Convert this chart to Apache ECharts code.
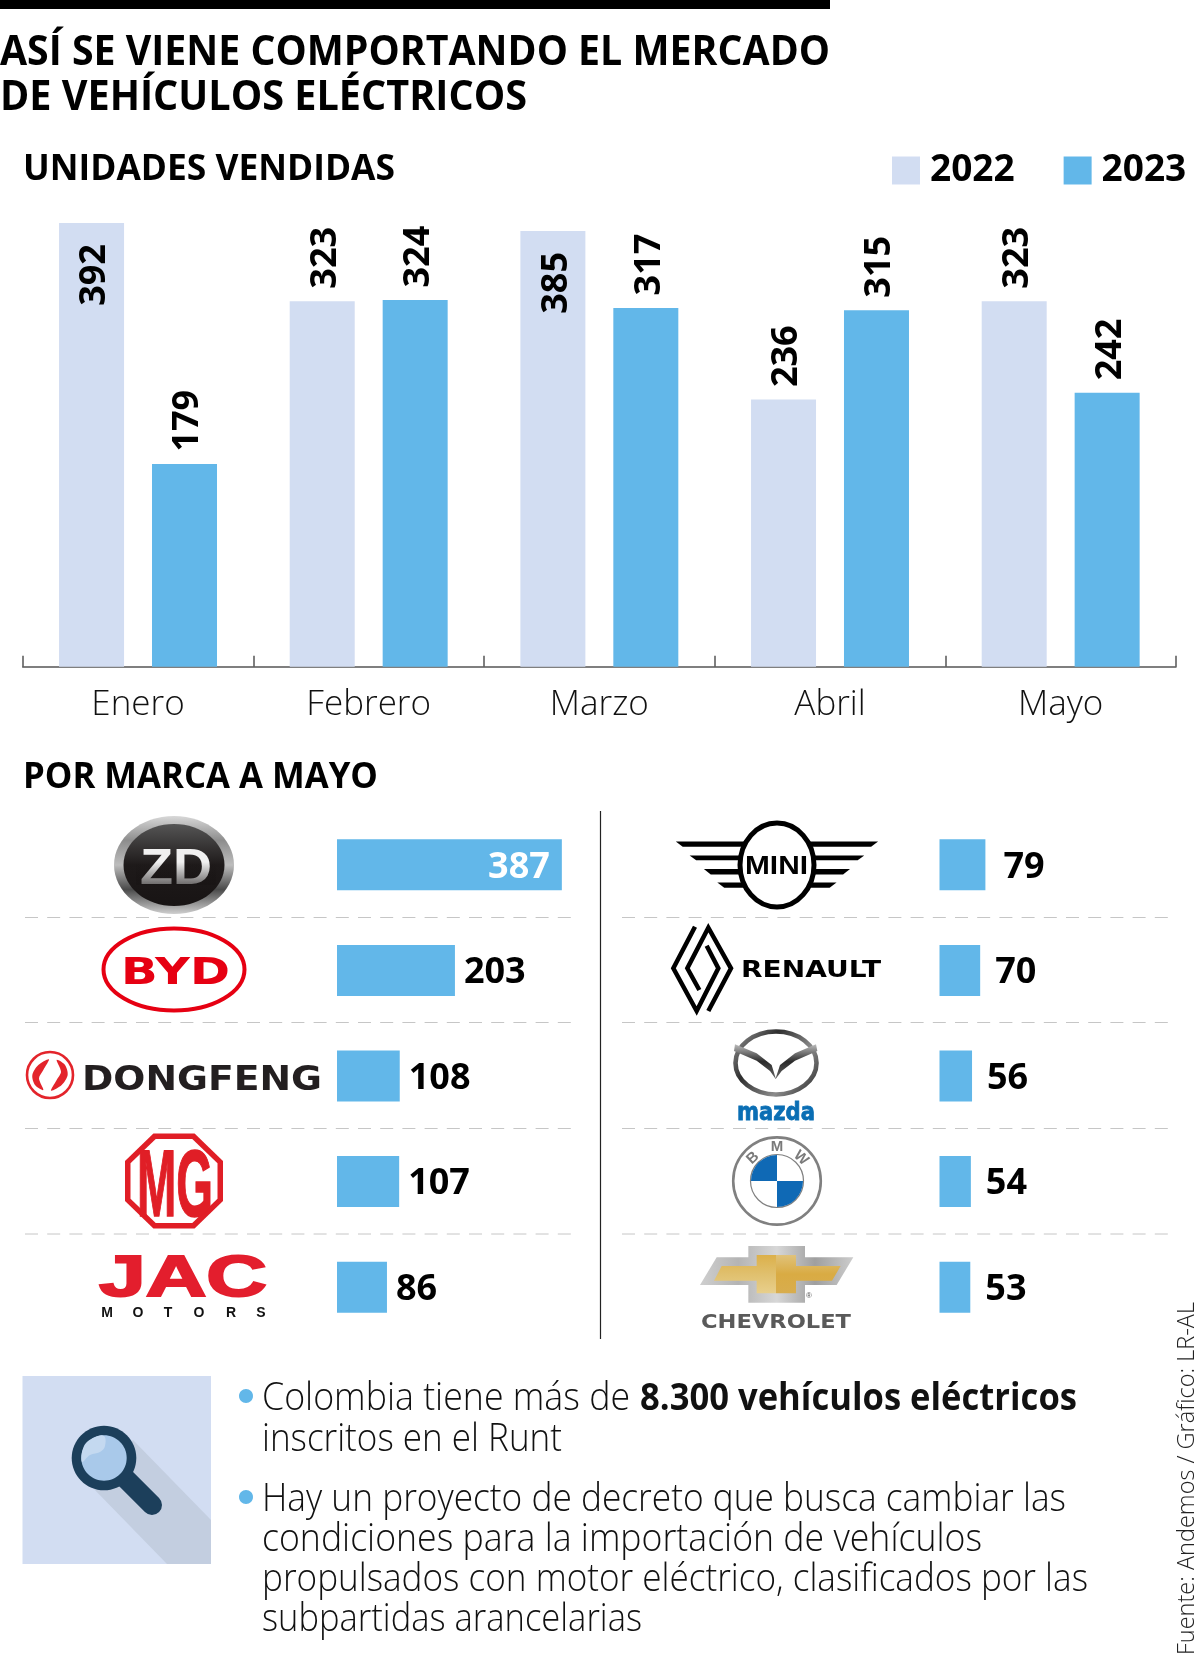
<!DOCTYPE html>
<html lang="es">
<head>
<meta charset="utf-8">
<title>Mercado de vehículos eléctricos</title>
<style>html,body{margin:0;padding:0;background:#fff}#c{width:1200px;height:1656px}</style>
<script src="https://cdn.jsdelivr.net/npm/echarts@6/dist/echarts.min.js"></script>
</head>
<body>
<div id="c"></div>
<script>
const months = ['Enero', 'Febrero', 'Marzo', 'Abril', 'Mayo'];
const sold2022 = [392, 323, 385, 236, 323];
const sold2023 = [179, 324, 317, 315, 242];
const brandsLeft = ['ZD', 'BYD', 'Dongfeng', 'MG', 'JAC Motors'];
const unitsLeft = [387, 203, 108, 107, 86];
const brandsRight = ['Mini', 'Renault', 'Mazda', 'BMW', 'Chevrolet'];
const unitsRight = [79, 70, 56, 54, 53];

const LIGHT = '#d2ddf2', BLUE = '#62b7e9', SANS = 'Open Sans';
const mctx = document.createElement('canvas').getContext('2d');

// Text placed by its baseline; when "right" is given it is squeezed to that right edge.
function txt(text, left, base, right, size, family, weight, fill, extra, styleExtra) {
  mctx.font = weight + ' ' + size + 'px "' + family + '"';
  mctx.textBaseline = 'middle';
  const d = mctx.measureText('H').actualBoundingBoxDescent;
  const w = mctx.measureText(text).width;
  return Object.assign({
    type: 'text', x: left, y: base - d, scaleX: right ? (right - left) / w : 1, silent: true,
    style: Object.assign({ text: text, fontSize: size, fontFamily: family, fontWeight: weight, fill: fill, align: 'left', verticalAlign: 'middle' }, styleExtra || {})
  }, extra || {});
}
function centered(text, cx, cy, size, family, weight, fill, rot) {
  return { type: 'text', x: cx, y: cy, rotation: rot || 0, silent: true,
    style: { text: text, fontSize: size, fontFamily: family, fontWeight: weight, fill: fill, align: 'center', verticalAlign: 'middle' } };
}
function ell(cx, cy, rx, ry, style) { return { type: 'ellipse', silent: true, shape: { cx: cx, cy: cy, rx: rx, ry: ry }, style: style }; }
function poly(points, style, smooth) { return { type: 'polygon', silent: true, shape: { points: points, smooth: smooth || 0 }, style: style }; }
function pline(points, style) { return { type: 'polyline', silent: true, shape: { points: points }, style: style }; }
function line(x1, y1, x2, y2, style) { return { type: 'line', silent: true, shape: { x1: x1, y1: y1, x2: x2, y2: y2 }, style: style }; }
function grad(x2, y2, stops) { return { type: 'linear', x: 0, y: 0, x2: x2, y2: y2, colorStops: stops.map((c, i) => ({ offset: i / (stops.length - 1), color: c })) }; }
function mapPts(pts, ox, oy, sx, sy) { return pts.map(p => [ox + p[0] / sx, oy + p[1] / sy]); }

const g = [];
// Header
g.push({ type: 'rect', silent: true, shape: { x: 0, y: 0, width: 830, height: 9 }, style: { fill: '#000' } });
g.push(txt('ASÍ SE VIENE COMPORTANDO EL MERCADO', 0, 65, 830, 42, SANS, 700, '#000'));
g.push(txt('DE VEHÍCULOS ELÉCTRICOS', 0, 109.5, 527, 42, SANS, 700, '#000'));
g.push(txt('UNIDADES VENDIDAS', 23, 180, 395, 35, SANS, 700, '#000'));
g.push(txt('POR MARCA A MAYO', 23, 788, 378, 36, SANS, 700, '#000'));

// Separators
[917.5, 1022.5, 1128.5, 1234].forEach(y => {
  g.push(line(25, y, 571, y, { stroke: '#c6c6c6', lineWidth: 1, lineDash: [13, 9.2] }));
  g.push(line(622, y, 1168, y, { stroke: '#c6c6c6', lineWidth: 1, lineDash: [13, 9.2] }));
});
g.push(line(600.5, 811, 600.5, 1339, { stroke: '#222', lineWidth: 1.2 }));

// ZD
g.push(ell(174, 865, 60, 49, { fill: grad(0, 1, ['#d8d8d8', '#8d8d8d', '#bdbdbd', '#4a4a4a', '#cfcfcf']) }));
g.push(ell(174, 865, 50.5, 41, { fill: grad(0, 1, ['#555', '#1e1a1a', '#181414']) }));
g.push(txt('ZD', 140, 883.5, 212, 50, 'Liberation Sans', 700, '#f0f0f0'));
g.push({ type: 'rect', silent: true, shape: { x: 136, y: 862, width: 80, height: 23 },
  style: { fill: grad(0, 1, ['rgba(24,20,20,0)', 'rgba(24,20,20,0.62)']) } });

// BYD
g.push(ell(174, 969.5, 70.5, 41, { fill: '#fff', stroke: '#e60012', lineWidth: 4 }));
g.push(txt('BYD', 121, 984, 230, 37, 'DejaVu Sans', 700, '#e60012'));

// Dongfeng
g.push(ell(50, 1075, 23, 23, { fill: '#fff', stroke: '#e3242b', lineWidth: 2.6 }));
const dfLeft = [[102, 58], [70, 75], [52, 105], [60, 135], [85, 150], [72, 115], [85, 90]];
g.push(poly(mapPts(dfLeft, 15, 1040, 3, 3), { fill: '#e3242b' }, 0.3));
g.push(poly(mapPts(dfLeft.map(p => [210 - p[0], 210 - p[1]]), 15, 1040, 3, 3), { fill: '#e3242b' }, 0.3));
g.push(txt('DONGFENG', 82, 1090, 322, 33, 'DejaVu Sans', 700, '#231f20'));

// MG
function octagon(cx, cy, hw, hh) {
  const a = hw * 0.42, b = hh * 0.42;
  return [[cx - a, cy - hh], [cx + a, cy - hh], [cx + hw, cy - b], [cx + hw, cy + b], [cx + a, cy + hh], [cx - a, cy + hh], [cx - hw, cy + b], [cx - hw, cy - b]];
}
g.push(poly(octagon(174, 1181, 49, 47.5), { fill: '#e01e26' }));
g.push(poly(octagon(174, 1181, 43.5, 42), { fill: '#fff' }));
g.push(txt('MG', 137, 1216, 213, 95, 'Liberation Sans', 700, '#e01e26', null, { stroke: '#e01e26', lineWidth: 1.5 }));

// JAC Motors
g.push(txt('JAC', 99, 1296, 267, 58, 'Liberation Sans', 700, '#e31e2d', null, { stroke: '#e31e2d', lineWidth: 2 }));
['M', 'O', 'T', 'O', 'R', 'S'].forEach((ch, i) => g.push(centered(ch, [107, 138, 168, 199, 231, 261][i], 1313, 14, 'Liberation Sans', 700, '#111')));

// Mini
[[118, 133, 197, 215], [158, 172, 233, 250], [197, 212, 270, 288], [235, 250, 305, 323]].forEach(s => {
  g.push(poly(mapPts([[s[2], s[0]], [920 - s[2], s[0]], [920 - s[3], s[1]], [s[3], s[1]]], 600, 800, 2.6, 2.85), { fill: '#000' }));
});
g.push(ell(777, 865, 37, 42, { fill: '#fff', stroke: '#000', lineWidth: 5 }));
g.push(txt('MINI', 745, 874, 808, 26, 'Liberation Sans', 700, '#000'));

// Renault
const rnStyle = { fill: 'none', stroke: '#000', lineWidth: 4.5, lineJoin: 'miter' };
g.push(pline(mapPts([[118, 225], [82, 160], [145, 38], [213, 160], [145, 288]], 660, 915, 3, 3), rnStyle));
g.push(pline(mapPts([[140, 92], [175, 160], [110, 288], [40, 160], [105, 35]], 660, 915, 3, 3), rnStyle));
g.push(txt('RENAULT', 741, 977, 881, 23, 'DejaVu Sans', 700, '#000'));

// Mazda
g.push(ell(776, 1063, 40.5, 31.5, { fill: '#fff', stroke: grad(1, 1, ['#a0a0a0', '#2e2e2e', '#8c8c8c', '#1f1f1f']), lineWidth: 4.6 }));
const mzPts = [[225, 388], [290, 415], [335, 450], [347, 490], [360, 450], [405, 415], [468, 388], [472, 408], [405, 437], [365, 468], [347, 492], [330, 468], [290, 437], [222, 408]];
g.push(poly(mapPts(mzPts, 660, 915, 3, 3), { fill: grad(0, 1, ['#bdbdbd', '#2b2b2b', '#666']) }));
g.push(txt('mazda', 737, 1120, 815, 24, 'DejaVu Sans', 700, '#0a6eb4', null, { stroke: '#0a6eb4', lineWidth: 0.8 }));

// BMW
g.push(ell(777, 1181, 43.8, 43.6, { fill: '#fff', stroke: '#808080', lineWidth: 2.6 }));
g.push(ell(777, 1181, 26.5, 26.5, { fill: '#fff', stroke: '#808080', lineWidth: 1.2 }));
g.push({ type: 'sector', silent: true, shape: { cx: 777, cy: 1181, r: 26, r0: 0, startAngle: Math.PI, endAngle: Math.PI * 1.5 }, style: { fill: '#0f69b5' } });
g.push({ type: 'sector', silent: true, shape: { cx: 777, cy: 1181, r: 26, r0: 0, startAngle: 0, endAngle: Math.PI * 0.5 }, style: { fill: '#0f69b5' } });
g.push(centered('B', 753, 1158, 15, 'Liberation Sans', 700, '#7a7a7a', 0.75));
g.push(centered('M', 777, 1147, 15, 'Liberation Sans', 700, '#7a7a7a', 0));
g.push(centered('W', 801, 1158, 15, 'Liberation Sans', 700, '#7a7a7a', -0.75));

// Chevrolet
const chevOuter = [[175, 18], [345, 18], [345, 52], [490, 52], [440, 135], [345, 135], [345, 188], [175, 188], [175, 135], [30, 135], [80, 52], [175, 52]];
g.push(poly(mapPts(chevOuter, 690, 1240, 3, 3), { fill: grad(1, 0, ['#cfcfcf', '#b4b4b4', '#d7d7d7', '#9f9f9f', '#cdcdcd']) }));
g.push(poly(mapPts([[200, 45], [258, 45], [258, 160], [200, 160], [200, 122], [72, 122], [95, 78], [200, 78]], 690, 1240, 3, 3), { fill: grad(0, 1, ['#dcb04a', '#e0c06e', '#e8cf8c']) }));
g.push(poly(mapPts([[258, 45], [318, 45], [318, 78], [452, 78], [426, 122], [318, 122], [318, 160], [258, 160]], 690, 1240, 3, 3), { fill: grad(0, 1, ['#e0c27a', '#d9ab43', '#d8ad4e']) }));
g.push(centered('®', 809, 1296, 8, 'Liberation Sans', 400, '#555'));
g.push(txt('CHEVROLET', 701, 1328, 851, 19, 'DejaVu Sans', 700, '#5a5a5a'));

// Panel with magnifier
g.push({ type: 'rect', silent: true, shape: { x: 22.5, y: 1376, width: 188.5, height: 188 }, style: { fill: LIGHT } });
g.push(poly([[133, 1440], [211, 1520], [211, 1564], [167, 1564], [93, 1488]], { fill: '#c3cee0' }));
g.push(line(124, 1477, 152, 1505, { stroke: '#1c3f5b', lineWidth: 20, lineCap: 'round' }));
g.push(ell(104, 1458, 32.3, 32.3, { fill: '#1c3f5b' }));
g.push(ell(104, 1458, 22.7, 22.7, { fill: '#a9c9ea' }));
g.push(poly([[82, 1462], [84, 1446], [94, 1437.5], [104, 1436], [105, 1446], [100, 1452], [90, 1455]], { fill: '#c4d9f0' }, 0.4));

// Notes
const bullet = { fill: BLUE };
g.push(ell(246, 1396, 7, 7, bullet));
g.push(ell(246, 1497, 7, 7, bullet));
g.push(txt('Colombia tiene más de', 262, 1410, 630, 38, SANS, 300, '#111'));
g.push(txt('8.300 vehículos eléctricos', 640, 1410, 1077, 38, SANS, 700, '#111'));
g.push(txt('inscritos en el Runt', 262, 1451, 562, 38, SANS, 300, '#111'));
g.push(txt('Hay un proyecto de decreto que busca cambiar las', 262, 1511, 1066, 38, SANS, 300, '#111'));
g.push(txt('condiciones para la importación de vehículos', 262, 1551, 982, 38, SANS, 300, '#111'));
g.push(txt('propulsados con motor eléctrico, clasificados por las', 262, 1591, 1088, 38, SANS, 300, '#111'));
g.push(txt('subpartidas arancelarias', 262, 1631, 642, 38, SANS, 300, '#111'));

// Source, reading upward
(function () {
  const t = txt('Fuente: Andemos / Gráfico: LR-AL', 0, 0, 353, 24, SANS, 300, '#222');
  const d = -t.y;
  t.x = 1194 - d; t.y = 1655; t.rotation = Math.PI / 2;
  g.push(t);
})();

const valueFont = { fontFamily: SANS, fontWeight: 700, fontSize: 36, color: '#000' };
function vertBar(v) {
  const inside = v > 380;
  return { value: v, label: {
    show: true, rotate: 90, verticalAlign: 'middle', offset: [0, 3.5],
    position: inside ? 'insideTop' : 'top',
    align: inside ? 'right' : 'left',
    distance: inside ? 21 : 12.5
  } };
}
function horizBar(dist) {
  return v => {
    const inside = v > 380;
    return { value: v, label: {
      show: true, position: inside ? 'insideRight' : 'right', offset: [0, 2.5],
      distance: inside ? 12 : dist(v),
      color: inside ? '#fff' : '#000'
    } };
  };
}
const axisStyle = { color: '#555', width: 1.5 };
const hiddenValue = i => ({ type: 'value', gridIndex: i, min: 0, max: 400, show: false });
const hiddenCat = (i, names) => ({ type: 'category', gridIndex: i, data: names, inverse: true, show: false });
const hSeries = (name, i, units, dist) => ({
  name: name, type: 'bar', xAxisIndex: i, yAxisIndex: i, barWidth: 51,
  itemStyle: { color: BLUE }, label: valueFont,
  data: units.map(horizBar(dist)), silent: true
});

const option = {
  animation: false,
  backgroundColor: '#fff',
  legend: {
    data: ['2022', '2023'], left: 887, top: 147, icon: 'rect', itemWidth: 28, itemHeight: 28, itemGap: 49,
    selectedMode: false,
    textStyle: { fontFamily: SANS, fontWeight: 700, fontSize: 37, color: '#000', padding: [0, 0, 0, 5] }
  },
  grid: [
    { left: 22.7, top: 214, width: 1153.3, height: 452.7 },
    { left: 337, top: 812, width: 232.4, height: 528 },
    { left: 939.5, top: 812, width: 232.4, height: 528 }
  ],
  xAxis: [
    { type: 'category', gridIndex: 0, data: months,
      axisLine: { show: true, lineStyle: axisStyle },
      axisTick: { show: true, inside: true, length: 11, lineStyle: axisStyle, interval: 0, alignWithLabel: false },
      axisLabel: { interval: 0, margin: 21, fontFamily: SANS, fontWeight: 300, fontSize: 35, color: '#111' } },
    hiddenValue(1), hiddenValue(2)
  ],
  yAxis: [
    { type: 'value', gridIndex: 0, min: 0, max: 400, show: false },
    hiddenCat(1, brandsLeft), hiddenCat(2, brandsRight)
  ],
  series: [
    { name: '2022', type: 'bar', xAxisIndex: 0, yAxisIndex: 0, barWidth: 65, barGap: '43%', silent: true,
      itemStyle: { color: LIGHT }, label: valueFont, data: sold2022.map(vertBar) },
    { name: '2023', type: 'bar', xAxisIndex: 0, yAxisIndex: 0, barWidth: 65, barGap: '43%', silent: true,
      itemStyle: { color: BLUE }, label: valueFont, data: sold2023.map(vertBar) },
    hSeries('Marcas A', 1, unitsLeft, () => 9),
    hSeries('Marcas B', 2, unitsRight, v => (v === 79 ? 18 : 15))
  ],
  graphic: { elements: g }
};
echarts.init(document.getElementById('c'), null, { renderer: 'canvas' }).setOption(option);
</script>
</body>
</html>
